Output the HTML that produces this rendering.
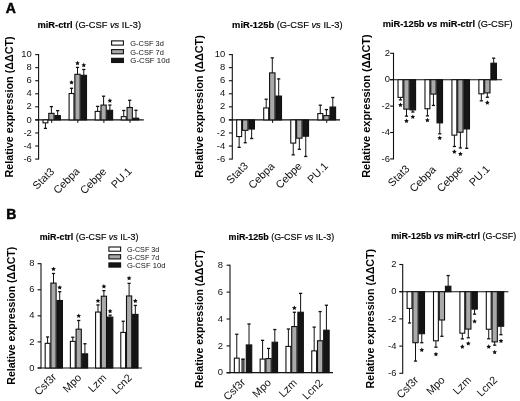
<!DOCTYPE html>
<html><head><meta charset="utf-8"><style>
html,body{margin:0;padding:0;background:#fff;}
svg{display:block;font-family:"Liberation Sans", sans-serif;filter:blur(0.35px);}
</style></head><body>
<svg width="520" height="401" viewBox="0 0 520 401">
<rect width="520" height="401" fill="#fff"/>
<line x1="38.6" y1="54.10" x2="38.6" y2="159.58" stroke="#111" stroke-width="1.1"/>
<line x1="35.20" y1="159.08" x2="38.6" y2="159.08" stroke="#111" stroke-width="1.1"/>
<text transform="translate(31.80,161.68) scale(1.11,1)" text-anchor="end" font-size="8.5" fill="#111">-6</text>
<line x1="35.20" y1="146.02" x2="38.6" y2="146.02" stroke="#111" stroke-width="1.1"/>
<text transform="translate(31.80,148.62) scale(1.11,1)" text-anchor="end" font-size="8.5" fill="#111">-4</text>
<line x1="35.20" y1="132.96" x2="38.6" y2="132.96" stroke="#111" stroke-width="1.1"/>
<text transform="translate(31.80,135.56) scale(1.11,1)" text-anchor="end" font-size="8.5" fill="#111">-2</text>
<line x1="35.20" y1="119.90" x2="38.6" y2="119.90" stroke="#111" stroke-width="1.1"/>
<text transform="translate(31.80,122.50) scale(1.11,1)" text-anchor="end" font-size="8.5" fill="#111">0</text>
<line x1="35.20" y1="106.84" x2="38.6" y2="106.84" stroke="#111" stroke-width="1.1"/>
<text transform="translate(31.80,109.44) scale(1.11,1)" text-anchor="end" font-size="8.5" fill="#111">2</text>
<line x1="35.20" y1="93.78" x2="38.6" y2="93.78" stroke="#111" stroke-width="1.1"/>
<text transform="translate(31.80,96.38) scale(1.11,1)" text-anchor="end" font-size="8.5" fill="#111">4</text>
<line x1="35.20" y1="80.72" x2="38.6" y2="80.72" stroke="#111" stroke-width="1.1"/>
<text transform="translate(31.80,83.32) scale(1.11,1)" text-anchor="end" font-size="8.5" fill="#111">6</text>
<line x1="35.20" y1="67.66" x2="38.6" y2="67.66" stroke="#111" stroke-width="1.1"/>
<text transform="translate(31.80,70.26) scale(1.11,1)" text-anchor="end" font-size="8.5" fill="#111">8</text>
<line x1="35.20" y1="54.60" x2="38.6" y2="54.60" stroke="#111" stroke-width="1.1"/>
<text transform="translate(31.80,57.20) scale(1.11,1)" text-anchor="end" font-size="8.5" fill="#111">10</text>
<line x1="35.20" y1="119.90" x2="143.80" y2="119.90" stroke="#111" stroke-width="1.1"/>
<line x1="51.70" y1="119.90" x2="51.70" y2="122.90" stroke="#111" stroke-width="1"/>
<line x1="45.43" y1="122.84" x2="45.43" y2="128.39" stroke="#111" stroke-width="1"/>
<line x1="43.83" y1="128.39" x2="47.03" y2="128.39" stroke="#111" stroke-width="1.3"/>
<rect x="43.00" y="119.90" width="4.86" height="2.94" fill="#fff" stroke="#111" stroke-width="1.1"/>
<line x1="51.40" y1="113.37" x2="51.40" y2="106.58" stroke="#111" stroke-width="1"/>
<line x1="49.80" y1="106.58" x2="53.00" y2="106.58" stroke="#111" stroke-width="1.3"/>
<rect x="48.76" y="113.37" width="5.28" height="6.53" fill="#a9a9a9" stroke="#111" stroke-width="1.1"/>
<line x1="57.67" y1="115.59" x2="57.67" y2="110.63" stroke="#111" stroke-width="1"/>
<line x1="56.07" y1="110.63" x2="59.27" y2="110.63" stroke="#111" stroke-width="1.3"/>
<rect x="54.93" y="115.59" width="5.47" height="4.31" fill="#151515" stroke="#111" stroke-width="1.1"/>
<line x1="77.80" y1="119.90" x2="77.80" y2="122.90" stroke="#111" stroke-width="1"/>
<line x1="71.53" y1="93.52" x2="71.53" y2="88.29" stroke="#111" stroke-width="1"/>
<line x1="69.93" y1="88.29" x2="73.13" y2="88.29" stroke="#111" stroke-width="1.3"/>
<rect x="69.10" y="93.52" width="4.86" height="26.38" fill="#fff" stroke="#111" stroke-width="1.1"/>
<polygon points="71.53,80.15 72.25,81.61 73.86,81.84 72.69,82.98 72.97,84.58 71.53,83.82 70.09,84.58 70.36,82.98 69.20,81.84 70.81,81.61" fill="#111"/>
<line x1="77.50" y1="74.32" x2="77.50" y2="67.40" stroke="#111" stroke-width="1"/>
<line x1="75.90" y1="67.40" x2="79.10" y2="67.40" stroke="#111" stroke-width="1.3"/>
<rect x="74.86" y="74.32" width="5.28" height="45.58" fill="#a9a9a9" stroke="#111" stroke-width="1.1"/>
<polygon points="77.50,60.75 78.22,62.21 79.83,62.44 78.66,63.58 78.94,65.18 77.50,64.42 76.06,65.18 76.33,63.58 75.17,62.44 76.78,62.21" fill="#111"/>
<line x1="83.77" y1="75.30" x2="83.77" y2="69.49" stroke="#111" stroke-width="1"/>
<line x1="82.17" y1="69.49" x2="85.37" y2="69.49" stroke="#111" stroke-width="1.3"/>
<rect x="81.03" y="75.30" width="5.47" height="44.60" fill="#151515" stroke="#111" stroke-width="1.1"/>
<polygon points="83.77,62.75 84.49,64.21 86.10,64.44 84.93,65.58 85.21,67.18 83.77,66.42 82.33,67.18 82.60,65.58 81.44,64.44 83.05,64.21" fill="#111"/>
<line x1="103.90" y1="119.90" x2="103.90" y2="122.90" stroke="#111" stroke-width="1"/>
<line x1="97.63" y1="111.41" x2="97.63" y2="106.38" stroke="#111" stroke-width="1"/>
<line x1="96.03" y1="106.38" x2="99.23" y2="106.38" stroke="#111" stroke-width="1.3"/>
<rect x="95.20" y="111.41" width="4.86" height="8.49" fill="#fff" stroke="#111" stroke-width="1.1"/>
<line x1="103.60" y1="105.08" x2="103.60" y2="96.20" stroke="#111" stroke-width="1"/>
<line x1="102.00" y1="96.20" x2="105.20" y2="96.20" stroke="#111" stroke-width="1.3"/>
<rect x="100.96" y="105.08" width="5.28" height="14.82" fill="#a9a9a9" stroke="#111" stroke-width="1.1"/>
<line x1="109.87" y1="110.30" x2="109.87" y2="105.08" stroke="#111" stroke-width="1"/>
<line x1="108.27" y1="105.08" x2="111.47" y2="105.08" stroke="#111" stroke-width="1.3"/>
<rect x="107.13" y="110.30" width="5.47" height="9.60" fill="#151515" stroke="#111" stroke-width="1.1"/>
<polygon points="109.87,98.25 110.59,99.71 112.20,99.94 111.03,101.08 111.31,102.68 109.87,101.92 108.43,102.68 108.70,101.08 107.54,99.94 109.15,99.71" fill="#111"/>
<line x1="130.00" y1="119.90" x2="130.00" y2="122.90" stroke="#111" stroke-width="1"/>
<line x1="123.73" y1="116.64" x2="123.73" y2="110.50" stroke="#111" stroke-width="1"/>
<line x1="122.13" y1="110.50" x2="125.33" y2="110.50" stroke="#111" stroke-width="1.3"/>
<rect x="121.30" y="116.64" width="4.86" height="3.27" fill="#fff" stroke="#111" stroke-width="1.1"/>
<line x1="129.70" y1="107.49" x2="129.70" y2="100.31" stroke="#111" stroke-width="1"/>
<line x1="128.10" y1="100.31" x2="131.30" y2="100.31" stroke="#111" stroke-width="1.3"/>
<rect x="127.06" y="107.49" width="5.28" height="12.41" fill="#a9a9a9" stroke="#111" stroke-width="1.1"/>
<line x1="135.97" y1="118.20" x2="135.97" y2="110.30" stroke="#111" stroke-width="1"/>
<line x1="134.37" y1="110.30" x2="137.57" y2="110.30" stroke="#111" stroke-width="1.3"/>
<rect x="133.23" y="118.20" width="5.47" height="1.70" fill="#151515" stroke="#111" stroke-width="1.1"/>
<text x="37.5" y="28.4" font-size="9.0" textLength="103.5" lengthAdjust="spacingAndGlyphs" fill="#000" stroke="#000" stroke-width="0.15"><tspan font-weight="bold">miR-ctrl</tspan> (G-CSF <tspan font-style="italic">vs</tspan> IL-3)</text>
<text transform="translate(12.5,177.5) rotate(-90)" font-size="10.6" font-weight="bold" textLength="141.2" lengthAdjust="spacingAndGlyphs" fill="#000">Relative expression (&#916;&#916;CT)</text>
<text transform="translate(54.90,172.15) rotate(-45)" text-anchor="end" font-size="10.8" fill="#111">Stat3</text>
<text transform="translate(80.25,172.05) rotate(-45)" text-anchor="end" font-size="10.8" fill="#111">Cebpa</text>
<text transform="translate(107.00,172.25) rotate(-45)" text-anchor="end" font-size="10.8" fill="#111">Cebpe</text>
<text transform="translate(132.50,171.90) rotate(-45)" text-anchor="end" font-size="10.8" fill="#111">PU.1</text>
<line x1="232.3" y1="54.10" x2="232.3" y2="159.58" stroke="#111" stroke-width="1.1"/>
<line x1="228.90" y1="159.08" x2="232.3" y2="159.08" stroke="#111" stroke-width="1.1"/>
<text transform="translate(225.20,161.68) scale(1.11,1)" text-anchor="end" font-size="8.5" fill="#111">-6</text>
<line x1="228.90" y1="146.02" x2="232.3" y2="146.02" stroke="#111" stroke-width="1.1"/>
<text transform="translate(225.20,148.62) scale(1.11,1)" text-anchor="end" font-size="8.5" fill="#111">-4</text>
<line x1="228.90" y1="132.96" x2="232.3" y2="132.96" stroke="#111" stroke-width="1.1"/>
<text transform="translate(225.20,135.56) scale(1.11,1)" text-anchor="end" font-size="8.5" fill="#111">-2</text>
<line x1="228.90" y1="119.90" x2="232.3" y2="119.90" stroke="#111" stroke-width="1.1"/>
<text transform="translate(225.20,122.50) scale(1.11,1)" text-anchor="end" font-size="8.5" fill="#111">0</text>
<line x1="228.90" y1="106.84" x2="232.3" y2="106.84" stroke="#111" stroke-width="1.1"/>
<text transform="translate(225.20,109.44) scale(1.11,1)" text-anchor="end" font-size="8.5" fill="#111">2</text>
<line x1="228.90" y1="93.78" x2="232.3" y2="93.78" stroke="#111" stroke-width="1.1"/>
<text transform="translate(225.20,96.38) scale(1.11,1)" text-anchor="end" font-size="8.5" fill="#111">4</text>
<line x1="228.90" y1="80.72" x2="232.3" y2="80.72" stroke="#111" stroke-width="1.1"/>
<text transform="translate(225.20,83.32) scale(1.11,1)" text-anchor="end" font-size="8.5" fill="#111">6</text>
<line x1="228.90" y1="67.66" x2="232.3" y2="67.66" stroke="#111" stroke-width="1.1"/>
<text transform="translate(225.20,70.26) scale(1.11,1)" text-anchor="end" font-size="8.5" fill="#111">8</text>
<line x1="228.90" y1="54.60" x2="232.3" y2="54.60" stroke="#111" stroke-width="1.1"/>
<text transform="translate(225.20,57.20) scale(1.11,1)" text-anchor="end" font-size="8.5" fill="#111">10</text>
<line x1="228.90" y1="119.90" x2="340.00" y2="119.90" stroke="#111" stroke-width="1.1"/>
<line x1="245.55" y1="119.90" x2="245.55" y2="122.90" stroke="#111" stroke-width="1"/>
<line x1="239.14" y1="136.55" x2="239.14" y2="147.33" stroke="#111" stroke-width="1"/>
<line x1="237.54" y1="147.33" x2="240.74" y2="147.33" stroke="#111" stroke-width="1.3"/>
<rect x="236.66" y="119.90" width="4.98" height="16.65" fill="#fff" stroke="#111" stroke-width="1.1"/>
<line x1="245.24" y1="130.35" x2="245.24" y2="142.75" stroke="#111" stroke-width="1"/>
<line x1="243.64" y1="142.75" x2="246.84" y2="142.75" stroke="#111" stroke-width="1.3"/>
<rect x="242.53" y="119.90" width="5.42" height="10.45" fill="#a9a9a9" stroke="#111" stroke-width="1.1"/>
<line x1="251.65" y1="129.04" x2="251.65" y2="138.51" stroke="#111" stroke-width="1"/>
<line x1="250.05" y1="138.51" x2="253.25" y2="138.51" stroke="#111" stroke-width="1.3"/>
<rect x="248.85" y="119.90" width="5.60" height="9.14" fill="#151515" stroke="#111" stroke-width="1.1"/>
<line x1="272.60" y1="119.90" x2="272.60" y2="122.90" stroke="#111" stroke-width="1"/>
<line x1="266.19" y1="107.95" x2="266.19" y2="99.20" stroke="#111" stroke-width="1"/>
<line x1="264.59" y1="99.20" x2="267.79" y2="99.20" stroke="#111" stroke-width="1.3"/>
<rect x="263.71" y="107.95" width="4.98" height="11.95" fill="#fff" stroke="#111" stroke-width="1.1"/>
<line x1="272.29" y1="72.88" x2="272.29" y2="57.87" stroke="#111" stroke-width="1"/>
<line x1="270.69" y1="57.87" x2="273.89" y2="57.87" stroke="#111" stroke-width="1.3"/>
<rect x="269.58" y="72.88" width="5.42" height="47.02" fill="#a9a9a9" stroke="#111" stroke-width="1.1"/>
<line x1="278.70" y1="96.07" x2="278.70" y2="78.89" stroke="#111" stroke-width="1"/>
<line x1="277.10" y1="78.89" x2="280.30" y2="78.89" stroke="#111" stroke-width="1.3"/>
<rect x="275.90" y="96.07" width="5.60" height="23.83" fill="#151515" stroke="#111" stroke-width="1.1"/>
<line x1="299.65" y1="119.90" x2="299.65" y2="122.90" stroke="#111" stroke-width="1"/>
<line x1="293.24" y1="143.08" x2="293.24" y2="154.84" stroke="#111" stroke-width="1"/>
<line x1="291.64" y1="154.84" x2="294.84" y2="154.84" stroke="#111" stroke-width="1.3"/>
<rect x="290.75" y="119.90" width="4.98" height="23.18" fill="#fff" stroke="#111" stroke-width="1.1"/>
<line x1="299.34" y1="138.18" x2="299.34" y2="149.28" stroke="#111" stroke-width="1"/>
<line x1="297.74" y1="149.28" x2="300.94" y2="149.28" stroke="#111" stroke-width="1.3"/>
<rect x="296.63" y="119.90" width="5.42" height="18.28" fill="#a9a9a9" stroke="#111" stroke-width="1.1"/>
<line x1="305.75" y1="136.22" x2="305.75" y2="156.47" stroke="#111" stroke-width="1"/>
<line x1="304.15" y1="156.47" x2="307.35" y2="156.47" stroke="#111" stroke-width="1.3"/>
<rect x="302.95" y="119.90" width="5.60" height="16.32" fill="#151515" stroke="#111" stroke-width="1.1"/>
<line x1="326.70" y1="119.90" x2="326.70" y2="122.90" stroke="#111" stroke-width="1"/>
<line x1="320.29" y1="113.57" x2="320.29" y2="105.21" stroke="#111" stroke-width="1"/>
<line x1="318.69" y1="105.21" x2="321.89" y2="105.21" stroke="#111" stroke-width="1.3"/>
<rect x="317.81" y="113.57" width="4.98" height="6.33" fill="#fff" stroke="#111" stroke-width="1.1"/>
<line x1="326.39" y1="115.59" x2="326.39" y2="109.58" stroke="#111" stroke-width="1"/>
<line x1="324.79" y1="109.58" x2="327.99" y2="109.58" stroke="#111" stroke-width="1.3"/>
<rect x="323.68" y="115.59" width="5.42" height="4.31" fill="#a9a9a9" stroke="#111" stroke-width="1.1"/>
<line x1="332.80" y1="107.04" x2="332.80" y2="97.50" stroke="#111" stroke-width="1"/>
<line x1="331.20" y1="97.50" x2="334.40" y2="97.50" stroke="#111" stroke-width="1.3"/>
<rect x="330.00" y="107.04" width="5.60" height="12.86" fill="#151515" stroke="#111" stroke-width="1.1"/>
<text x="232.1" y="28.0" font-size="9.0" textLength="110.5" lengthAdjust="spacingAndGlyphs" fill="#000" stroke="#000" stroke-width="0.15"><tspan font-weight="bold">miR-125b</tspan> (G-CSF <tspan font-style="italic">vs</tspan> IL-3)</text>
<text transform="translate(203.1,177.8) rotate(-90)" font-size="10.6" font-weight="bold" textLength="142.7" lengthAdjust="spacingAndGlyphs" fill="#000">Relative expression (&#916;&#916;CT)</text>
<text transform="translate(248.65,166.55) rotate(-45)" text-anchor="end" font-size="10.8" fill="#111">Stat3</text>
<text transform="translate(275.20,167.00) rotate(-45)" text-anchor="end" font-size="10.8" fill="#111">Cebpa</text>
<text transform="translate(302.50,166.85) rotate(-45)" text-anchor="end" font-size="10.8" fill="#111">Cebpe</text>
<text transform="translate(328.65,166.80) rotate(-45)" text-anchor="end" font-size="10.8" fill="#111">PU.1</text>
<line x1="393.5" y1="52.80" x2="393.5" y2="159.40" stroke="#111" stroke-width="1.1"/>
<line x1="390.10" y1="158.90" x2="393.5" y2="158.90" stroke="#111" stroke-width="1.1"/>
<text transform="translate(390.00,161.50) scale(1.11,1)" text-anchor="end" font-size="8.5" fill="#111">-6</text>
<line x1="390.10" y1="132.50" x2="393.5" y2="132.50" stroke="#111" stroke-width="1.1"/>
<text transform="translate(390.00,135.10) scale(1.11,1)" text-anchor="end" font-size="8.5" fill="#111">-4</text>
<line x1="390.10" y1="106.10" x2="393.5" y2="106.10" stroke="#111" stroke-width="1.1"/>
<text transform="translate(390.00,108.70) scale(1.11,1)" text-anchor="end" font-size="8.5" fill="#111">-2</text>
<line x1="390.10" y1="79.70" x2="393.5" y2="79.70" stroke="#111" stroke-width="1.1"/>
<text transform="translate(390.00,82.30) scale(1.11,1)" text-anchor="end" font-size="8.5" fill="#111">0</text>
<line x1="390.10" y1="53.30" x2="393.5" y2="53.30" stroke="#111" stroke-width="1.1"/>
<text transform="translate(390.00,55.90) scale(1.11,1)" text-anchor="end" font-size="8.5" fill="#111">2</text>
<line x1="390.10" y1="79.70" x2="502.10" y2="79.70" stroke="#111" stroke-width="1.1"/>
<line x1="406.80" y1="79.70" x2="406.80" y2="82.70" stroke="#111" stroke-width="1"/>
<line x1="400.48" y1="97.39" x2="400.48" y2="99.90" stroke="#111" stroke-width="1"/>
<line x1="398.88" y1="99.90" x2="402.08" y2="99.90" stroke="#111" stroke-width="1.3"/>
<rect x="398.03" y="79.70" width="4.90" height="17.69" fill="#fff" stroke="#111" stroke-width="1.1"/>
<polygon points="400.48,102.55 401.20,104.01 402.81,104.24 401.64,105.38 401.92,106.98 400.48,106.22 399.04,106.98 399.31,105.38 398.15,104.24 399.76,104.01" fill="#111"/>
<line x1="406.49" y1="109.14" x2="406.49" y2="116.13" stroke="#111" stroke-width="1"/>
<line x1="404.89" y1="116.13" x2="408.09" y2="116.13" stroke="#111" stroke-width="1.3"/>
<rect x="403.83" y="79.70" width="5.33" height="29.44" fill="#a9a9a9" stroke="#111" stroke-width="1.1"/>
<polygon points="406.49,118.55 407.21,120.01 408.82,120.24 407.66,121.38 407.93,122.98 406.49,122.22 405.05,122.98 405.33,121.38 404.16,120.24 405.77,120.01" fill="#111"/>
<line x1="412.82" y1="109.93" x2="412.82" y2="112.04" stroke="#111" stroke-width="1"/>
<line x1="411.22" y1="112.04" x2="414.42" y2="112.04" stroke="#111" stroke-width="1.3"/>
<rect x="410.06" y="79.70" width="5.52" height="30.23" fill="#151515" stroke="#111" stroke-width="1.1"/>
<polygon points="412.82,114.45 413.54,115.91 415.15,116.14 413.98,117.28 414.26,118.88 412.82,118.12 411.38,118.88 411.65,117.28 410.49,116.14 412.10,115.91" fill="#111"/>
<line x1="433.75" y1="79.70" x2="433.75" y2="82.70" stroke="#111" stroke-width="1"/>
<line x1="427.43" y1="108.74" x2="427.43" y2="115.87" stroke="#111" stroke-width="1"/>
<line x1="425.83" y1="115.87" x2="429.03" y2="115.87" stroke="#111" stroke-width="1.3"/>
<rect x="424.98" y="79.70" width="4.90" height="29.04" fill="#fff" stroke="#111" stroke-width="1.1"/>
<polygon points="427.43,117.85 428.15,119.31 429.76,119.54 428.59,120.68 428.87,122.28 427.43,121.52 425.99,122.28 426.26,120.68 425.10,119.54 426.71,119.31" fill="#111"/>
<line x1="433.44" y1="94.09" x2="433.44" y2="105.44" stroke="#111" stroke-width="1"/>
<line x1="431.84" y1="105.44" x2="435.04" y2="105.44" stroke="#111" stroke-width="1.3"/>
<rect x="430.78" y="79.70" width="5.33" height="14.39" fill="#a9a9a9" stroke="#111" stroke-width="1.1"/>
<line x1="439.77" y1="122.86" x2="439.77" y2="133.82" stroke="#111" stroke-width="1"/>
<line x1="438.17" y1="133.82" x2="441.37" y2="133.82" stroke="#111" stroke-width="1.3"/>
<rect x="437.01" y="79.70" width="5.52" height="43.16" fill="#151515" stroke="#111" stroke-width="1.1"/>
<polygon points="439.77,135.65 440.49,137.11 442.10,137.34 440.93,138.48 441.21,140.08 439.77,139.32 438.33,140.08 438.60,138.48 437.44,137.34 439.05,137.11" fill="#111"/>
<line x1="460.70" y1="79.70" x2="460.70" y2="82.70" stroke="#111" stroke-width="1"/>
<line x1="454.38" y1="135.14" x2="454.38" y2="146.49" stroke="#111" stroke-width="1"/>
<line x1="452.78" y1="146.49" x2="455.98" y2="146.49" stroke="#111" stroke-width="1.3"/>
<rect x="451.93" y="79.70" width="4.90" height="55.44" fill="#fff" stroke="#111" stroke-width="1.1"/>
<polygon points="454.38,149.35 455.10,150.81 456.71,151.04 455.54,152.18 455.82,153.78 454.38,153.03 452.94,153.78 453.21,152.18 452.05,151.04 453.66,150.81" fill="#111"/>
<line x1="460.39" y1="132.24" x2="460.39" y2="147.94" stroke="#111" stroke-width="1"/>
<line x1="458.79" y1="147.94" x2="461.99" y2="147.94" stroke="#111" stroke-width="1.3"/>
<rect x="457.73" y="79.70" width="5.33" height="52.54" fill="#a9a9a9" stroke="#111" stroke-width="1.1"/>
<polygon points="460.39,151.55 461.11,153.01 462.72,153.24 461.56,154.38 461.83,155.98 460.39,155.22 458.95,155.98 459.23,154.38 458.06,153.24 459.67,153.01" fill="#111"/>
<line x1="466.72" y1="128.94" x2="466.72" y2="148.34" stroke="#111" stroke-width="1"/>
<line x1="465.12" y1="148.34" x2="468.32" y2="148.34" stroke="#111" stroke-width="1.3"/>
<rect x="463.96" y="79.70" width="5.52" height="49.24" fill="#151515" stroke="#111" stroke-width="1.1"/>
<line x1="487.65" y1="79.70" x2="487.65" y2="82.70" stroke="#111" stroke-width="1"/>
<line x1="481.33" y1="93.82" x2="481.33" y2="100.82" stroke="#111" stroke-width="1"/>
<line x1="479.73" y1="100.82" x2="482.93" y2="100.82" stroke="#111" stroke-width="1.3"/>
<rect x="478.88" y="79.70" width="4.90" height="14.12" fill="#fff" stroke="#111" stroke-width="1.1"/>
<line x1="487.34" y1="92.90" x2="487.34" y2="97.26" stroke="#111" stroke-width="1"/>
<line x1="485.74" y1="97.26" x2="488.94" y2="97.26" stroke="#111" stroke-width="1.3"/>
<rect x="484.68" y="79.70" width="5.33" height="13.20" fill="#a9a9a9" stroke="#111" stroke-width="1.1"/>
<polygon points="487.34,100.35 488.06,101.81 489.67,102.04 488.51,103.18 488.78,104.78 487.34,104.02 485.90,104.78 486.18,103.18 485.01,102.04 486.62,101.81" fill="#111"/>
<line x1="493.67" y1="63.20" x2="493.67" y2="58.18" stroke="#111" stroke-width="1"/>
<line x1="492.07" y1="58.18" x2="495.27" y2="58.18" stroke="#111" stroke-width="1.3"/>
<rect x="490.91" y="63.20" width="5.52" height="16.50" fill="#151515" stroke="#111" stroke-width="1.1"/>
<text x="382.7" y="27.4" font-size="9.0" textLength="130.0" lengthAdjust="spacingAndGlyphs" fill="#000" stroke="#000" stroke-width="0.15"><tspan font-weight="bold">miR-125b <tspan font-style="italic">vs</tspan> miR-ctrl</tspan> (G-CSF)</text>
<text transform="translate(369.85,177.8) rotate(-90)" font-size="10.6" font-weight="bold" textLength="143.5" lengthAdjust="spacingAndGlyphs" fill="#000">Relative expression (&#916;&#916;CT)</text>
<text transform="translate(410.15,169.45) rotate(-45)" text-anchor="end" font-size="10.8" fill="#111">Stat3</text>
<text transform="translate(436.50,170.15) rotate(-45)" text-anchor="end" font-size="10.8" fill="#111">Cebpa</text>
<text transform="translate(463.85,170.15) rotate(-45)" text-anchor="end" font-size="10.8" fill="#111">Cebpe</text>
<text transform="translate(490.45,169.65) rotate(-45)" text-anchor="end" font-size="10.8" fill="#111">PU.1</text>
<line x1="41.0" y1="263.18" x2="41.0" y2="368.50" stroke="#111" stroke-width="1.1"/>
<line x1="37.60" y1="368.00" x2="41.0" y2="368.00" stroke="#111" stroke-width="1.1"/>
<text transform="translate(34.60,370.60) scale(1.11,1)" text-anchor="end" font-size="8.5" fill="#111">0</text>
<line x1="37.60" y1="341.92" x2="41.0" y2="341.92" stroke="#111" stroke-width="1.1"/>
<text transform="translate(34.60,344.52) scale(1.11,1)" text-anchor="end" font-size="8.5" fill="#111">2</text>
<line x1="37.60" y1="315.84" x2="41.0" y2="315.84" stroke="#111" stroke-width="1.1"/>
<text transform="translate(34.60,318.44) scale(1.11,1)" text-anchor="end" font-size="8.5" fill="#111">4</text>
<line x1="37.60" y1="289.76" x2="41.0" y2="289.76" stroke="#111" stroke-width="1.1"/>
<text transform="translate(34.60,292.36) scale(1.11,1)" text-anchor="end" font-size="8.5" fill="#111">6</text>
<line x1="37.60" y1="263.68" x2="41.0" y2="263.68" stroke="#111" stroke-width="1.1"/>
<text transform="translate(34.60,266.28) scale(1.11,1)" text-anchor="end" font-size="8.5" fill="#111">8</text>
<line x1="37.60" y1="368.00" x2="142.00" y2="368.00" stroke="#111" stroke-width="1.1"/>
<line x1="47.58" y1="343.34" x2="47.58" y2="336.98" stroke="#111" stroke-width="1"/>
<line x1="45.98" y1="336.98" x2="49.18" y2="336.98" stroke="#111" stroke-width="1.3"/>
<rect x="45.17" y="343.34" width="4.81" height="24.66" fill="#fff" stroke="#111" stroke-width="1.1"/>
<line x1="53.50" y1="283.11" x2="53.50" y2="273.51" stroke="#111" stroke-width="1"/>
<line x1="51.90" y1="273.51" x2="55.10" y2="273.51" stroke="#111" stroke-width="1.3"/>
<rect x="50.89" y="283.11" width="5.22" height="84.89" fill="#a9a9a9" stroke="#111" stroke-width="1.1"/>
<polygon points="53.50,266.65 54.22,268.11 55.83,268.34 54.66,269.48 54.94,271.08 53.50,270.33 52.06,271.08 52.33,269.48 51.17,268.34 52.78,268.11" fill="#111"/>
<line x1="59.72" y1="300.50" x2="59.72" y2="291.68" stroke="#111" stroke-width="1"/>
<line x1="58.12" y1="291.68" x2="61.32" y2="291.68" stroke="#111" stroke-width="1.3"/>
<rect x="57.01" y="300.50" width="5.42" height="67.50" fill="#151515" stroke="#111" stroke-width="1.1"/>
<polygon points="59.72,285.15 60.44,286.61 62.05,286.84 60.88,287.98 61.16,289.58 59.72,288.83 58.28,289.58 58.55,287.98 57.39,286.84 59.00,286.61" fill="#111"/>
<line x1="72.78" y1="341.39" x2="72.78" y2="337.24" stroke="#111" stroke-width="1"/>
<line x1="71.18" y1="337.24" x2="74.38" y2="337.24" stroke="#111" stroke-width="1.3"/>
<rect x="70.38" y="341.39" width="4.81" height="26.61" fill="#fff" stroke="#111" stroke-width="1.1"/>
<line x1="78.70" y1="329.19" x2="78.70" y2="320.49" stroke="#111" stroke-width="1"/>
<line x1="77.10" y1="320.49" x2="80.30" y2="320.49" stroke="#111" stroke-width="1.3"/>
<rect x="76.09" y="329.19" width="5.22" height="38.81" fill="#a9a9a9" stroke="#111" stroke-width="1.1"/>
<polygon points="78.70,313.45 79.42,314.91 81.03,315.14 79.86,316.28 80.14,317.88 78.70,317.12 77.26,317.88 77.53,316.28 76.37,315.14 77.98,314.91" fill="#111"/>
<line x1="84.92" y1="353.85" x2="84.92" y2="343.73" stroke="#111" stroke-width="1"/>
<line x1="83.32" y1="343.73" x2="86.52" y2="343.73" stroke="#111" stroke-width="1.3"/>
<rect x="82.21" y="353.85" width="5.41" height="14.15" fill="#151515" stroke="#111" stroke-width="1.1"/>
<line x1="97.98" y1="312.06" x2="97.98" y2="304.92" stroke="#111" stroke-width="1"/>
<line x1="96.38" y1="304.92" x2="99.58" y2="304.92" stroke="#111" stroke-width="1.3"/>
<rect x="95.58" y="312.06" width="4.81" height="55.94" fill="#fff" stroke="#111" stroke-width="1.1"/>
<polygon points="97.98,298.45 98.70,299.91 100.31,300.14 99.15,301.28 99.42,302.88 97.98,302.12 96.54,302.88 96.82,301.28 95.65,300.14 97.26,299.91" fill="#111"/>
<line x1="103.90" y1="296.22" x2="103.90" y2="290.64" stroke="#111" stroke-width="1"/>
<line x1="102.30" y1="290.64" x2="105.50" y2="290.64" stroke="#111" stroke-width="1.3"/>
<rect x="101.29" y="296.22" width="5.22" height="71.78" fill="#a9a9a9" stroke="#111" stroke-width="1.1"/>
<polygon points="103.90,284.05 104.62,285.51 106.23,285.74 105.06,286.88 105.34,288.48 103.90,287.73 102.46,288.48 102.73,286.88 101.57,285.74 103.18,285.51" fill="#111"/>
<line x1="110.12" y1="317.12" x2="110.12" y2="315.17" stroke="#111" stroke-width="1"/>
<line x1="108.52" y1="315.17" x2="111.72" y2="315.17" stroke="#111" stroke-width="1.3"/>
<rect x="107.41" y="317.12" width="5.41" height="50.88" fill="#151515" stroke="#111" stroke-width="1.1"/>
<polygon points="110.12,308.75 110.84,310.21 112.45,310.44 111.28,311.58 111.56,313.18 110.12,312.43 108.68,313.18 108.95,311.58 107.79,310.44 109.40,310.21" fill="#111"/>
<line x1="123.18" y1="332.43" x2="123.18" y2="321.27" stroke="#111" stroke-width="1"/>
<line x1="121.58" y1="321.27" x2="124.78" y2="321.27" stroke="#111" stroke-width="1.3"/>
<rect x="120.78" y="332.43" width="4.81" height="35.57" fill="#fff" stroke="#111" stroke-width="1.1"/>
<line x1="129.10" y1="295.96" x2="129.10" y2="283.37" stroke="#111" stroke-width="1"/>
<line x1="127.50" y1="283.37" x2="130.70" y2="283.37" stroke="#111" stroke-width="1.3"/>
<rect x="126.49" y="295.96" width="5.22" height="72.04" fill="#a9a9a9" stroke="#111" stroke-width="1.1"/>
<polygon points="129.10,275.85 129.82,277.31 131.43,277.54 130.26,278.68 130.54,280.28 129.10,279.53 127.66,280.28 127.93,278.68 126.77,277.54 128.38,277.31" fill="#111"/>
<line x1="135.32" y1="314.39" x2="135.32" y2="305.44" stroke="#111" stroke-width="1"/>
<line x1="133.72" y1="305.44" x2="136.92" y2="305.44" stroke="#111" stroke-width="1.3"/>
<rect x="132.61" y="314.39" width="5.41" height="53.61" fill="#151515" stroke="#111" stroke-width="1.1"/>
<polygon points="135.32,298.55 136.04,300.01 137.65,300.24 136.48,301.38 136.76,302.98 135.32,302.23 133.88,302.98 134.15,301.38 132.99,300.24 134.60,300.01" fill="#111"/>
<text x="39.7" y="239.6" font-size="9.0" textLength="98.8" lengthAdjust="spacingAndGlyphs" fill="#000" stroke="#000" stroke-width="0.15"><tspan font-weight="bold">miR-ctrl</tspan> (G-CSF <tspan font-style="italic">vs</tspan> IL-3)</text>
<text transform="translate(15.4,384.7) rotate(-90)" font-size="10.4" font-weight="bold" textLength="138.0" lengthAdjust="spacingAndGlyphs" fill="#000">Relative expression (&#916;&#916;CT)</text>
<text transform="translate(57.05,377.75) rotate(-45)" text-anchor="end" font-size="10.8" fill="#111">Csf3r</text>
<text transform="translate(82.10,378.30) rotate(-45)" text-anchor="end" font-size="10.8" fill="#111">Mpo</text>
<text transform="translate(107.00,378.45) rotate(-45)" text-anchor="end" font-size="10.8" fill="#111">Lzm</text>
<text transform="translate(132.50,378.40) rotate(-45)" text-anchor="end" font-size="10.8" fill="#111">Lcn2</text>
<line x1="230.0" y1="264.70" x2="230.0" y2="373.30" stroke="#111" stroke-width="1.1"/>
<line x1="226.60" y1="372.80" x2="230.0" y2="372.80" stroke="#111" stroke-width="1.1"/>
<text transform="translate(223.00,375.40) scale(1.11,1)" text-anchor="end" font-size="8.5" fill="#111">0</text>
<line x1="226.60" y1="345.90" x2="230.0" y2="345.90" stroke="#111" stroke-width="1.1"/>
<text transform="translate(223.00,348.50) scale(1.11,1)" text-anchor="end" font-size="8.5" fill="#111">2</text>
<line x1="226.60" y1="319.00" x2="230.0" y2="319.00" stroke="#111" stroke-width="1.1"/>
<text transform="translate(223.00,321.60) scale(1.11,1)" text-anchor="end" font-size="8.5" fill="#111">4</text>
<line x1="226.60" y1="292.10" x2="230.0" y2="292.10" stroke="#111" stroke-width="1.1"/>
<text transform="translate(223.00,294.70) scale(1.11,1)" text-anchor="end" font-size="8.5" fill="#111">6</text>
<line x1="226.60" y1="265.20" x2="230.0" y2="265.20" stroke="#111" stroke-width="1.1"/>
<text transform="translate(223.00,267.80) scale(1.11,1)" text-anchor="end" font-size="8.5" fill="#111">8</text>
<line x1="226.60" y1="372.60" x2="333.00" y2="372.60" stroke="#111" stroke-width="1.1"/>
<line x1="236.78" y1="358.16" x2="236.78" y2="334.26" stroke="#111" stroke-width="1"/>
<line x1="235.18" y1="334.26" x2="238.38" y2="334.26" stroke="#111" stroke-width="1.3"/>
<rect x="234.35" y="358.16" width="4.86" height="14.44" fill="#fff" stroke="#111" stroke-width="1.1"/>
<line x1="243.00" y1="359.24" x2="243.00" y2="359.24" stroke="#111" stroke-width="1"/>
<line x1="241.40" y1="359.24" x2="244.60" y2="359.24" stroke="#111" stroke-width="1.3"/>
<rect x="242.05" y="359.24" width="1.90" height="13.37" fill="#a9a9a9" stroke="#111" stroke-width="1.1"/>
<line x1="249.02" y1="344.93" x2="249.02" y2="324.00" stroke="#111" stroke-width="1"/>
<line x1="247.42" y1="324.00" x2="250.62" y2="324.00" stroke="#111" stroke-width="1.3"/>
<rect x="246.28" y="344.93" width="5.47" height="27.68" fill="#151515" stroke="#111" stroke-width="1.1"/>
<line x1="262.58" y1="359.10" x2="262.58" y2="340.34" stroke="#111" stroke-width="1"/>
<line x1="260.98" y1="340.34" x2="264.18" y2="340.34" stroke="#111" stroke-width="1.3"/>
<rect x="260.15" y="359.10" width="4.86" height="13.50" fill="#fff" stroke="#111" stroke-width="1.1"/>
<line x1="268.55" y1="358.56" x2="268.55" y2="348.44" stroke="#111" stroke-width="1"/>
<line x1="266.95" y1="348.44" x2="270.15" y2="348.44" stroke="#111" stroke-width="1.3"/>
<rect x="265.91" y="358.56" width="5.28" height="14.04" fill="#a9a9a9" stroke="#111" stroke-width="1.1"/>
<line x1="274.82" y1="342.23" x2="274.82" y2="329.54" stroke="#111" stroke-width="1"/>
<line x1="273.22" y1="329.54" x2="276.42" y2="329.54" stroke="#111" stroke-width="1.3"/>
<rect x="272.08" y="342.23" width="5.47" height="30.38" fill="#151515" stroke="#111" stroke-width="1.1"/>
<line x1="288.38" y1="346.41" x2="288.38" y2="329.00" stroke="#111" stroke-width="1"/>
<line x1="286.78" y1="329.00" x2="289.98" y2="329.00" stroke="#111" stroke-width="1.3"/>
<rect x="285.95" y="346.41" width="4.86" height="26.19" fill="#fff" stroke="#111" stroke-width="1.1"/>
<line x1="294.35" y1="326.56" x2="294.35" y2="312.25" stroke="#111" stroke-width="1"/>
<line x1="292.75" y1="312.25" x2="295.95" y2="312.25" stroke="#111" stroke-width="1.3"/>
<rect x="291.71" y="326.56" width="5.28" height="46.04" fill="#a9a9a9" stroke="#111" stroke-width="1.1"/>
<polygon points="294.35,305.55 295.07,307.01 296.68,307.24 295.51,308.38 295.79,309.98 294.35,309.23 292.91,309.98 293.18,308.38 292.02,307.24 293.63,307.01" fill="#111"/>
<line x1="300.62" y1="312.25" x2="300.62" y2="293.36" stroke="#111" stroke-width="1"/>
<line x1="299.02" y1="293.36" x2="302.22" y2="293.36" stroke="#111" stroke-width="1.3"/>
<rect x="297.88" y="312.25" width="5.47" height="60.35" fill="#151515" stroke="#111" stroke-width="1.1"/>
<line x1="314.18" y1="350.87" x2="314.18" y2="327.11" stroke="#111" stroke-width="1"/>
<line x1="312.58" y1="327.11" x2="315.78" y2="327.11" stroke="#111" stroke-width="1.3"/>
<rect x="311.75" y="350.87" width="4.86" height="21.74" fill="#fff" stroke="#111" stroke-width="1.1"/>
<line x1="320.15" y1="340.74" x2="320.15" y2="311.58" stroke="#111" stroke-width="1"/>
<line x1="318.55" y1="311.58" x2="321.75" y2="311.58" stroke="#111" stroke-width="1.3"/>
<rect x="317.51" y="340.74" width="5.28" height="31.86" fill="#a9a9a9" stroke="#111" stroke-width="1.1"/>
<line x1="326.42" y1="330.21" x2="326.42" y2="305.24" stroke="#111" stroke-width="1"/>
<line x1="324.82" y1="305.24" x2="328.02" y2="305.24" stroke="#111" stroke-width="1.3"/>
<rect x="323.68" y="330.21" width="5.47" height="42.39" fill="#151515" stroke="#111" stroke-width="1.1"/>
<text x="228.5" y="239.8" font-size="9.0" textLength="105.7" lengthAdjust="spacingAndGlyphs" fill="#000" stroke="#000" stroke-width="0.15"><tspan font-weight="bold">miR-125b</tspan> (G-CSF <tspan font-style="italic">vs</tspan> IL-3)</text>
<text transform="translate(202.65,388.1) rotate(-90)" font-size="10.4" font-weight="bold" textLength="138.1" lengthAdjust="spacingAndGlyphs" fill="#000">Relative expression (&#916;&#916;CT)</text>
<text transform="translate(246.00,382.85) rotate(-45)" text-anchor="end" font-size="10.8" fill="#111">Csf3r</text>
<text transform="translate(271.65,383.30) rotate(-45)" text-anchor="end" font-size="10.8" fill="#111">Mpo</text>
<text transform="translate(297.60,383.50) rotate(-45)" text-anchor="end" font-size="10.8" fill="#111">Lzm</text>
<text transform="translate(323.40,383.65) rotate(-45)" text-anchor="end" font-size="10.8" fill="#111">Lcn2</text>
<line x1="402.7" y1="264.00" x2="402.7" y2="373.80" stroke="#111" stroke-width="1.1"/>
<line x1="399.30" y1="373.30" x2="402.7" y2="373.30" stroke="#111" stroke-width="1.1"/>
<text transform="translate(396.50,375.90) scale(1.11,1)" text-anchor="end" font-size="8.5" fill="#111">-6</text>
<line x1="399.30" y1="346.10" x2="402.7" y2="346.10" stroke="#111" stroke-width="1.1"/>
<text transform="translate(396.50,348.70) scale(1.11,1)" text-anchor="end" font-size="8.5" fill="#111">-4</text>
<line x1="399.30" y1="318.90" x2="402.7" y2="318.90" stroke="#111" stroke-width="1.1"/>
<text transform="translate(396.50,321.50) scale(1.11,1)" text-anchor="end" font-size="8.5" fill="#111">-2</text>
<line x1="399.30" y1="291.70" x2="402.7" y2="291.70" stroke="#111" stroke-width="1.1"/>
<text transform="translate(396.50,294.30) scale(1.11,1)" text-anchor="end" font-size="8.5" fill="#111">0</text>
<line x1="399.30" y1="264.50" x2="402.7" y2="264.50" stroke="#111" stroke-width="1.1"/>
<text transform="translate(396.50,267.10) scale(1.11,1)" text-anchor="end" font-size="8.5" fill="#111">2</text>
<line x1="399.30" y1="291.70" x2="508.40" y2="291.70" stroke="#111" stroke-width="1.1"/>
<line x1="409.53" y1="308.43" x2="409.53" y2="322.98" stroke="#111" stroke-width="1"/>
<line x1="407.93" y1="322.98" x2="411.13" y2="322.98" stroke="#111" stroke-width="1.3"/>
<rect x="407.10" y="291.70" width="4.86" height="16.73" fill="#fff" stroke="#111" stroke-width="1.1"/>
<line x1="415.50" y1="342.70" x2="415.50" y2="361.06" stroke="#111" stroke-width="1"/>
<line x1="413.90" y1="361.06" x2="417.10" y2="361.06" stroke="#111" stroke-width="1.3"/>
<rect x="412.86" y="291.70" width="5.28" height="51.00" fill="#a9a9a9" stroke="#111" stroke-width="1.1"/>
<line x1="421.77" y1="333.72" x2="421.77" y2="342.70" stroke="#111" stroke-width="1"/>
<line x1="420.17" y1="342.70" x2="423.37" y2="342.70" stroke="#111" stroke-width="1.3"/>
<rect x="419.03" y="291.70" width="5.47" height="42.02" fill="#151515" stroke="#111" stroke-width="1.1"/>
<polygon points="421.77,347.55 422.49,349.01 424.10,349.24 422.93,350.38 423.21,351.98 421.77,351.23 420.33,351.98 420.60,350.38 419.44,349.24 421.05,349.01" fill="#111"/>
<line x1="435.93" y1="340.80" x2="435.93" y2="347.19" stroke="#111" stroke-width="1"/>
<line x1="434.33" y1="347.19" x2="437.53" y2="347.19" stroke="#111" stroke-width="1.3"/>
<rect x="433.50" y="291.70" width="4.86" height="49.10" fill="#fff" stroke="#111" stroke-width="1.1"/>
<polygon points="435.93,351.85 436.65,353.31 438.26,353.54 437.09,354.68 437.37,356.28 435.93,355.53 434.49,356.28 434.76,354.68 433.60,353.54 435.21,353.31" fill="#111"/>
<line x1="441.90" y1="319.99" x2="441.90" y2="336.31" stroke="#111" stroke-width="1"/>
<line x1="440.30" y1="336.31" x2="443.50" y2="336.31" stroke="#111" stroke-width="1.3"/>
<rect x="439.26" y="291.70" width="5.28" height="28.29" fill="#a9a9a9" stroke="#111" stroke-width="1.1"/>
<line x1="448.17" y1="286.26" x2="448.17" y2="275.52" stroke="#111" stroke-width="1"/>
<line x1="446.57" y1="275.52" x2="449.77" y2="275.52" stroke="#111" stroke-width="1.3"/>
<rect x="445.43" y="286.26" width="5.47" height="5.44" fill="#151515" stroke="#111" stroke-width="1.1"/>
<line x1="462.33" y1="333.18" x2="462.33" y2="338.89" stroke="#111" stroke-width="1"/>
<line x1="460.73" y1="338.89" x2="463.93" y2="338.89" stroke="#111" stroke-width="1.3"/>
<rect x="459.90" y="291.70" width="4.86" height="41.48" fill="#fff" stroke="#111" stroke-width="1.1"/>
<polygon points="462.33,344.25 463.05,345.71 464.66,345.94 463.49,347.08 463.77,348.68 462.33,347.93 460.89,348.68 461.16,347.08 460.00,345.94 461.61,345.71" fill="#111"/>
<line x1="468.30" y1="329.10" x2="468.30" y2="337.80" stroke="#111" stroke-width="1"/>
<line x1="466.70" y1="337.80" x2="469.90" y2="337.80" stroke="#111" stroke-width="1.3"/>
<rect x="465.66" y="291.70" width="5.28" height="37.40" fill="#a9a9a9" stroke="#111" stroke-width="1.1"/>
<polygon points="468.30,341.15 469.02,342.61 470.63,342.84 469.46,343.98 469.74,345.58 468.30,344.83 466.86,345.58 467.13,343.98 465.97,342.84 467.58,342.61" fill="#111"/>
<line x1="474.57" y1="309.11" x2="474.57" y2="314.14" stroke="#111" stroke-width="1"/>
<line x1="472.97" y1="314.14" x2="476.17" y2="314.14" stroke="#111" stroke-width="1.3"/>
<rect x="471.83" y="291.70" width="5.47" height="17.41" fill="#151515" stroke="#111" stroke-width="1.1"/>
<polygon points="474.57,318.95 475.29,320.41 476.90,320.64 475.73,321.78 476.01,323.38 474.57,322.62 473.13,323.38 473.40,321.78 472.24,320.64 473.85,320.41" fill="#111"/>
<line x1="488.73" y1="329.24" x2="488.73" y2="338.76" stroke="#111" stroke-width="1"/>
<line x1="487.13" y1="338.76" x2="490.33" y2="338.76" stroke="#111" stroke-width="1.3"/>
<rect x="486.30" y="291.70" width="4.86" height="37.54" fill="#fff" stroke="#111" stroke-width="1.1"/>
<polygon points="488.73,344.35 489.45,345.81 491.06,346.04 489.89,347.18 490.17,348.78 488.73,348.03 487.29,348.78 487.56,347.18 486.40,346.04 488.01,345.81" fill="#111"/>
<line x1="494.70" y1="341.88" x2="494.70" y2="345.15" stroke="#111" stroke-width="1"/>
<line x1="493.10" y1="345.15" x2="496.30" y2="345.15" stroke="#111" stroke-width="1.3"/>
<rect x="492.06" y="291.70" width="5.28" height="50.18" fill="#a9a9a9" stroke="#111" stroke-width="1.1"/>
<polygon points="494.70,349.75 495.42,351.21 497.03,351.44 495.86,352.58 496.14,354.18 494.70,353.43 493.26,354.18 493.53,352.58 492.37,351.44 493.98,351.21" fill="#111"/>
<line x1="500.97" y1="326.24" x2="500.97" y2="334.68" stroke="#111" stroke-width="1"/>
<line x1="499.37" y1="334.68" x2="502.57" y2="334.68" stroke="#111" stroke-width="1.3"/>
<rect x="498.23" y="291.70" width="5.47" height="34.54" fill="#151515" stroke="#111" stroke-width="1.1"/>
<polygon points="500.97,338.55 501.69,340.01 503.30,340.24 502.13,341.38 502.41,342.98 500.97,342.23 499.53,342.98 499.80,341.38 498.64,340.24 500.25,340.01" fill="#111"/>
<text x="391.2" y="239.3" font-size="9.0" textLength="125.0" lengthAdjust="spacingAndGlyphs" fill="#000" stroke="#000" stroke-width="0.15"><tspan font-weight="bold">miR-125b <tspan font-style="italic">vs</tspan> miR-ctrl</tspan> (G-CSF)</text>
<text transform="translate(373.85,388.4) rotate(-90)" font-size="10.4" font-weight="bold" textLength="139.4" lengthAdjust="spacingAndGlyphs" fill="#000">Relative expression (&#916;&#916;CT)</text>
<text transform="translate(419.15,380.75) rotate(-45)" text-anchor="end" font-size="10.8" fill="#111">Csf3r</text>
<text transform="translate(445.55,380.75) rotate(-45)" text-anchor="end" font-size="10.8" fill="#111">Mpo</text>
<text transform="translate(471.75,380.75) rotate(-45)" text-anchor="end" font-size="10.8" fill="#111">Lzm</text>
<text transform="translate(497.90,380.80) rotate(-45)" text-anchor="end" font-size="10.8" fill="#111">Lcn2</text>
<rect x="111.60" y="40.90" width="11.80" height="4.2" fill="#fff" stroke="#111" stroke-width="1.1"/>
<text x="130.3" y="45.90" font-size="8.1" textLength="33.5" lengthAdjust="spacingAndGlyphs" fill="#111">G-CSF 3d</text>
<rect x="111.60" y="49.60" width="11.80" height="4.2" fill="#a9a9a9" stroke="#111" stroke-width="1.1"/>
<text x="130.3" y="54.60" font-size="8.1" textLength="33.5" lengthAdjust="spacingAndGlyphs" fill="#111">G-CSF 7d</text>
<rect x="111.60" y="58.30" width="11.80" height="4.2" fill="#151515" stroke="#111" stroke-width="1.1"/>
<text x="130.3" y="63.30" font-size="8.1" textLength="39.6" lengthAdjust="spacingAndGlyphs" fill="#111">G-CSF 10d</text>
<rect x="108.90" y="247.00" width="11.70" height="4.2" fill="#fff" stroke="#111" stroke-width="1.1"/>
<text x="126.9" y="252.00" font-size="8.0" textLength="32.5" lengthAdjust="spacingAndGlyphs" fill="#111">G-CSF 3d</text>
<rect x="108.90" y="254.70" width="11.70" height="4.2" fill="#a9a9a9" stroke="#111" stroke-width="1.1"/>
<text x="126.9" y="259.70" font-size="8.0" textLength="32.5" lengthAdjust="spacingAndGlyphs" fill="#111">G-CSF 7d</text>
<rect x="108.90" y="262.90" width="11.70" height="4.2" fill="#151515" stroke="#111" stroke-width="1.1"/>
<text x="126.9" y="267.90" font-size="8.0" textLength="38.5" lengthAdjust="spacingAndGlyphs" fill="#111">G-CSF 10d</text>
<text x="5.8" y="13.1" font-size="14" font-weight="bold" fill="#000" stroke="#000" stroke-width="0.45">A</text>
<text x="6.3" y="219.3" font-size="14" font-weight="bold" fill="#000" stroke="#000" stroke-width="0.45">B</text>
</svg>
</body></html>
